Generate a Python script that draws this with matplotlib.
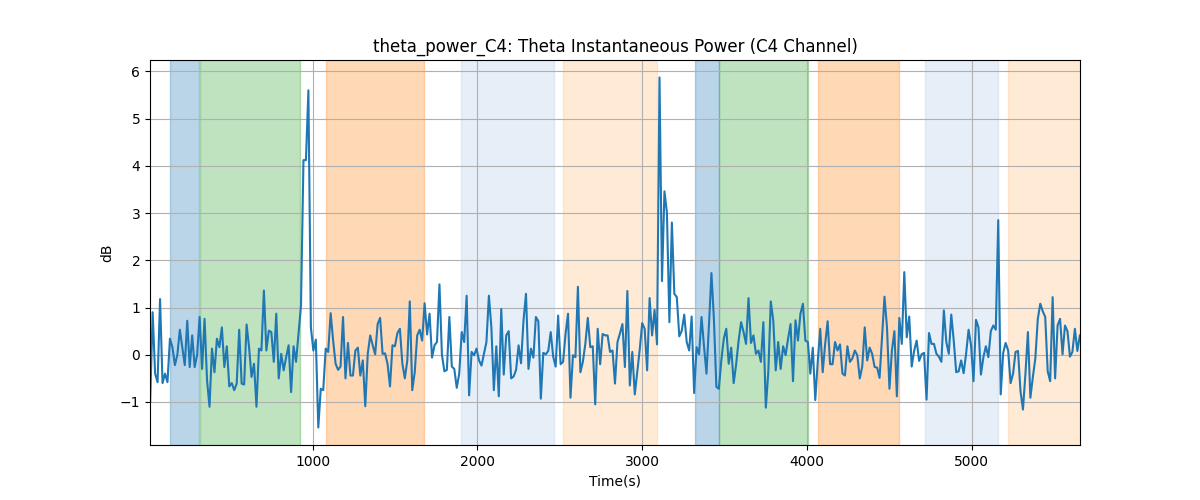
import numpy as np
import matplotlib
matplotlib.use('Agg')
import matplotlib.pyplot as plt

# 采样: 每 15 秒一个点
t_start = 15
t_step = 15

power_db = [
    # 0-47
    -1.0, 0.9, -0.4, -0.58, 1.18, -0.6, -0.4, -0.58, 0.34, 0.16, -0.22, 0.0,
    0.53, 0.16, -0.22, 0.72, -0.26, 0.41, -0.26, 0.0, 0.8, -0.3, 0.76, -0.54,
    -1.1, 0.13, -0.37, 0.34, 0.16, 0.58, -0.26, 0.18, -0.67, -0.6, -0.75, -0.61,
    0.53, -0.61, -0.63, 0.64, 0.16, -0.47, -0.19, -1.1, 0.13, 0.09, 1.36, 0.09,
    # 48-94
    0.51, 0.48, -0.15, 0.87, -0.5, 0.02, -0.33, -0.05, 0.2, -0.79, 0.18, -0.15,
    0.44, 1.04, 4.12, 4.12, 5.6, 0.58, 0.09, 0.32, -1.54, -0.72, -0.75, 0.13,
    0.06, 0.88, 0.3, -0.19, -0.32, -0.25, 0.8, -0.5, 0.25, -0.44, -0.44, 0.09,
    0.15, -0.44, -0.12, -1.09, 0.02, 0.41, 0.2, 0.01, 0.65, 0.78, 0.02,
    # 95-142
    0.03, -0.19, -0.67, 0.2, 0.18, 0.46, 0.55, -0.19, -0.5, -0.12, 1.13, -0.75,
    -0.37, 0.41, 0.53, 0.3, 1.09, 0.43, 0.87, -0.06, 0.2, 0.27, 1.49, 0.0,
    -0.35, -0.32, 0.8, -0.25, -0.3, -0.7, -0.4, 0.48, 0.27, 1.25, -0.86, 0.06,
    -0.01, 0.13, -0.12, -0.23, 0.02, 0.27, 1.25, 0.58, -0.75, 0.18, -0.88, 0.97,
    # 143-189
    -0.42, 0.41, 0.5, -0.5, -0.46, -0.32, 0.2, -0.18, 0.73, 1.29, -0.3, 0.13,
    -0.06, 0.8, 0.71, -0.93, 0.04, 0.01, 0.08, 0.48, -0.04, -0.25, 0.83, -0.2,
    -0.15, 0.44, 0.87, -0.91, -0.01, -0.05, 1.44, -0.37, -0.15, 0.23, 0.78, 0.16,
    0.18, -1.05, 0.55, -0.2, 0.44, 0.41, 0.41, 0.06, 0.09, -0.61, 0.27,
    # 190-236
    0.45, 0.65, -0.26, 1.35, -0.65, 0.06, -0.84, -0.37, 0.11, 0.67, 0.55, -0.33,
    1.2, 0.41, 0.95, 0.22, 5.87, 1.56, 3.46, 3.01, 0.69, 2.8, 1.29, 1.22,
    0.39, 0.51, 0.85, 0.27, 0.09, 0.81, -0.81, 0.16, 0.01, 0.8, 0.18, -0.4,
    0.62, 1.73, 0.76, -0.68, -0.72, -0.12, 0.34, 0.55, -0.19, 0.15, -0.6,
    # 237-284
    -0.2, 0.3, 0.69, 0.48, 0.23, 1.2, 0.25, 0.41, 0.02, 0.09, -0.15, 0.69,
    -1.12, -0.37, 1.13, 0.73, -0.33, 0.27, -0.3, 0.18, -0.01, 0.34, 0.65, -0.56,
    0.73, 0.3, 0.87, 1.08, 0.3, 0.27, -0.4, 0.15, -0.96, -0.15, 0.55, -0.37,
    0.23, 0.71, -0.2, -0.2, 0.27, 0.09, 0.22, -0.4, -0.44, 0.18, -0.15, -0.08,
    # 285-331
    0.09, -0.01, -0.5, -0.25, 0.58, -0.12, 0.15, 0.02, -0.26, -0.27, -0.49, 0.37,
    1.23, 0.58, -0.72, 0.09, 0.5, -0.88, 0.78, 0.23, 1.75, 0.37, 0.81, -0.25,
    0.09, 0.3, -0.13, 0.01, 0.04, -0.95, 0.46, 0.23, 0.23, 0.02, -0.04, -0.15,
    0.94, 0.27, 0.02, 0.85, 0.3, -0.37, -0.35, -0.12, -0.39, 0.02, 0.53,
    # 332-376
    0.2, -0.56, 0.74, 0.58, -0.42, -0.05, 0.18, -0.05, 0.5, 0.62, 0.53, 2.85,
    -0.84, 0.04, 0.25, 0.09, -0.6, -0.4, 0.06, 0.08, -0.77, -1.16, -0.4, 0.48,
    -0.91, -0.47, -0.08, 0.76, 1.08, 0.92, 0.8, -0.35, -0.56, 1.22, -0.5, 0.62,
    0.76, 0.01, 0.62, 0.5, -0.04, 0.06, 0.55, 0.08, 0.41,
]

time_s = t_start + t_step * np.arange(len(power_db))

# 阶段区间 (开始, 结束)
span_starts = [135, 317, 1083, 1902, 2517, 3323, 3464, 4064, 4713, 5217]
span_ends = [313, 923, 1678, 2467, 3090, 3464, 4007, 4560, 5161, 5700]
span_colors = ['tab:blue', 'tab:green', 'tab:orange', '#aec7e8', '#ffbb78',
               'tab:blue', 'tab:green', 'tab:orange', '#aec7e8', '#ffbb78']

fig, ax = plt.subplots(figsize=(12, 5), dpi=100)

for s, e, c in zip(span_starts, span_ends, span_colors):
    ax.axvspan(s, e, color=c, alpha=0.3)

ax.plot(time_s, power_db, color='tab:blue')
ax.set_xlim(time_s[0] - 1, time_s[-1] + 1)
ax.set_title('theta_power_C4: Theta Instantaneous Power (C4 Channel)')
ax.set_xlabel('Time(s)')
ax.set_ylabel('dB')
ax.grid(True)

plt.savefig('out.png')
